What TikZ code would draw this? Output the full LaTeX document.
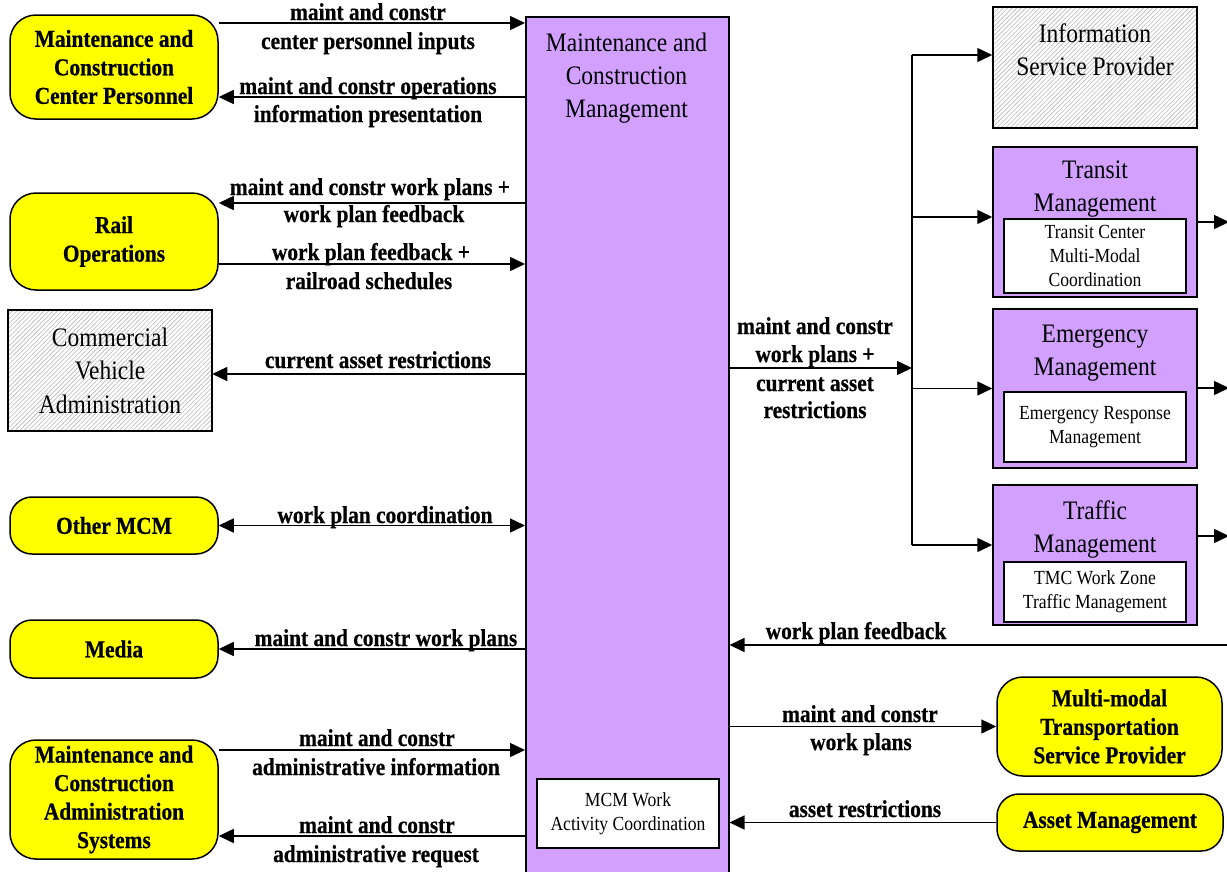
\documentclass[tikz,border=0pt]{standalone}
\usepackage{fontspec}
\setmainfont{Liberation Serif}[FakeStretch=0.88,BoldFeatures={FakeBold=0.6}]
\usetikzlibrary{arrows.meta,patterns.meta}
\definecolor{mpurple}{RGB}{210,160,255}
\definecolor{myellow}{RGB}{255,255,0}
\tikzset{
 ext/.style={draw,line width=1.5pt,fill=myellow,rounded corners=26pt,align=center,
   font=\bfseries\fontsize{24.3}{28.5}\selectfont,inner sep=0pt},
 extsmall/.style={ext,rounded corners=22pt},
 hatch/.style={draw,line width=1.5pt,align=center,font=\fontsize{26.7}{33.5}\selectfont,
   preaction={fill=white},pattern={Lines[angle=45,distance=3.2pt,line width=0.6pt]},
   pattern color=gray!55,inner sep=0pt},
 sub/.style={draw,line width=1.5pt,fill=mpurple,inner sep=0pt},
 innerbox/.style={draw,line width=1.5pt,fill=white,align=center,
   font=\fontsize{20}{24}\selectfont,inner sep=0pt},
 ttl/.style={align=center,font=\fontsize{26.7}{33}\selectfont,inner sep=0pt},
 lbl/.style={font=\bfseries\fontsize{24.3}{28}\selectfont,anchor=base,inner sep=0pt},
 flow/.style={line width=1.5pt,-{Triangle[length=15pt,width=14pt]}},
 both/.style={line width=1.5pt,{Triangle[length=15pt,width=14pt]}-{Triangle[length=15pt,width=14pt]}},
 plain/.style={line width=1.5pt},
}
\begin{document}
\begin{tikzpicture}[x=1pt,y=-1pt]
\useasboundingbox (0,0) rectangle (1227,871);

% central box
\node[sub,minimum width=203pt,minimum height=859pt,anchor=north west] (main) at (525,16) {};
\node[ttl] (maintitle) at (626.5,78) {Maintenance and\\Construction\\Management};
\node[innerbox,minimum width=182pt,minimum height=69pt] (mcmwork) at (628,813.5) {MCM Work\\Activity Coordination};

% left side
\node[ext,minimum width=208pt,minimum height=104pt] (mccp) at (114,67) {Maintenance and\\Construction\\Center Personnel};
\node[ext,minimum width=208pt,minimum height=97pt] (rail) at (114,241.5) {Rail\\Operations};
\node[hatch,minimum width=204pt,minimum height=121pt] (cva) at (110,370.5) {Commercial\\Vehicle\\Administration};
\node[extsmall,minimum width=208pt,minimum height=57pt] (omcm) at (114,525.5) {Other MCM};
\node[extsmall,minimum width=208pt,minimum height=58pt] (media) at (114,649) {Media};
\node[ext,minimum width=208pt,minimum height=119pt] (mcas) at (114,799.5) {Maintenance and\\Construction\\Administration\\Systems};

% right side
\node[hatch,minimum width=204pt,minimum height=121pt] (isp) at (1095,67.5) {};
\node[ttl] (isptitle) at (1095,50) {Information\\Service Provider};
\node[sub,minimum width=204pt,minimum height=150pt] (tm) at (1095,222) {};
\node[ttl] (tmtitle) at (1095,189) {Transit\\Management};
\node[innerbox,minimum width=182pt,minimum height=74pt] (tmin) at (1095,256) {Transit Center\\Multi-Modal\\Coordination};
\node[sub,minimum width=204pt,minimum height=159pt] (em) at (1095,388.5) {};
\node[ttl] (emtitle) at (1095,353) {Emergency\\Management};
\node[innerbox,minimum width=182pt,minimum height=70pt] (emin) at (1095,427) {Emergency Response\\Management};
\node[sub,minimum width=204pt,minimum height=140pt] (trm) at (1095,555) {};
\node[ttl] (trmtitle) at (1095,529) {Traffic\\Management};
\node[innerbox,minimum width=182pt,minimum height=60pt] (trmin) at (1095,592) {TMC Work Zone\\Traffic Management};
\node[ext,minimum width=225pt,minimum height=99pt] (tsp) at (1109.5,726.5) {Multi-modal\\Transportation\\Service Provider};
\node[extsmall,minimum width=226pt,minimum height=57pt] (am) at (1110,822.5) {Asset Management};

% left connectors
\draw[flow] (mccp.east |- 0,23) -- (main.west |- 0,23);
\draw[flow] (main.west |- 0,97) -- (mccp.east |- 0,97);
\draw[flow] (main.west |- 0,203) -- (rail.east |- 0,203);
\draw[flow] (rail.east |- 0,264) -- (main.west |- 0,264);
\draw[flow] (main.west |- 0,374) -- (cva.east |- 0,374);
\draw[both] (omcm.east) -- (main.west |- omcm.east);
\draw[flow] (main.west |- media.east) -- (media.east);
\draw[flow] (mcas.east |- 0,750) -- (main.west |- 0,750);
\draw[flow] (main.west |- 0,836) -- (mcas.east |- 0,836);

% left labels
\node[lbl] (l1a) at (368,20) {maint and constr};
\node[lbl] (l1b) at (368,49) {center personnel inputs};
\node[lbl] (l2a) at (368,94) {maint and constr operations};
\node[lbl] (l2b) at (368,122) {information presentation};
\node[lbl] (l3a) at (370,195) {maint and constr work plans +};
\node[lbl] (l3b) at (374,222) {work plan feedback};
\node[lbl] (l4a) at (371,260) {work plan feedback +};
\node[lbl] (l4b) at (369,289) {railroad schedules};
\node[lbl] (l5) at (378,368) {current asset restrictions};
\node[lbl] (l6) at (385,523) {work plan coordination};
\node[lbl] (l7) at (386,646) {maint and constr work plans};
\node[lbl] (l8a) at (377,746) {maint and constr};
\node[lbl] (l8b) at (376,775) {administrative information};
\node[lbl] (l9a) at (377,833) {maint and constr};
\node[lbl] (l9b) at (376,862) {administrative request};

% right connectors
\coordinate (bus) at (912,368);
\coordinate (bustop) at (912,55);
\coordinate (busb) at (912,217);
\coordinate (busc) at (912,388.5);
\coordinate (busbot) at (912,545);
\draw[flow] (main.east |- bus) -- (bus);
\draw[plain] (bustop) -- (busbot);
\draw[flow] (bustop) -- (isp.west |- bustop);
\draw[flow] (busb) -- (tm.west |- busb);
\draw[flow] (busc) -- (em.west);
\draw[flow] (busbot) -- (trm.west |- busbot);
\coordinate (outa) at (1229,222);
\coordinate (outb) at (1229,388);
\coordinate (outc) at (1229,536);
\draw[flow] (tm.east |- outa) -- (outa);
\draw[flow] (em.east |- outb) -- (outb);
\draw[flow] (trm.east |- outc) -- (outc);
\coordinate (fbin) at (1232,645);
\draw[flow] (fbin) -- (main.east |- fbin);
\draw[flow] (main.east |- tsp.west) -- (tsp.west);
\draw[flow] (am.west) -- (main.east |- am.west);

% right labels
\node[lbl] (r1a) at (815,334) {maint and constr};
\node[lbl] (r1b) at (815,362) {work plans +};
\node[lbl] (r1c) at (815,391) {current asset};
\node[lbl] (r1d) at (815,418) {restrictions};
\node[lbl] (r2) at (856,639) {work plan feedback};
\node[lbl] (r3a) at (860,722) {maint and constr};
\node[lbl] (r3b) at (861,750) {work plans};
\node[lbl] (r4) at (865,817) {asset restrictions};
\end{tikzpicture}
\end{document}
